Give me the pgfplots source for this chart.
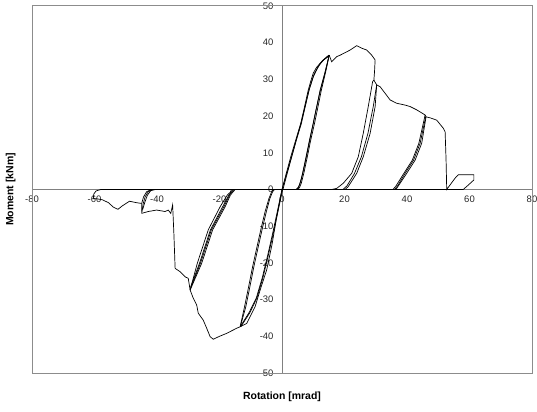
\documentclass[border=0pt]{standalone}
\usepackage{pgfplots}
\pgfplotsset{compat=1.18}
\usepackage{fontspec}
\setmainfont{Liberation Sans}
\begin{document}
\begin{tikzpicture}
\begin{axis}[
  at={(0,0)}, anchor=south west,
  scale only axis, width=500bp, height=367bp,
  xmin=-80, xmax=80, ymin=-50, ymax=50,
  axis lines=middle,
  axis line style={draw=black!50, line width=1bp, -},
  xtick={-80,-60,...,80}, ytick={-50,-40,...,50},
  hide obscured x ticks=false, hide obscured y ticks=false,
  major tick length=0pt,
  tick label style={font=\fontsize{9.5}{10}\selectfont, text=black!85},
  /pgf/number format/assume math mode=true,
  xticklabel style={anchor=north, yshift=-3bp},
  yticklabel style={anchor=east, xshift=-5bp},
  clip=false,
  cycle list={{black, solid, line width=0.7bp, mark=none}},
  every axis plot post/.append style={black, solid, line width=0.7bp, mark=none},
]
% frame
\draw[black!45, line width=1bp] (rel axis cs:0,0) rectangle (rel axis cs:1,1);

% cycle 1 positive: loading from origin
\addplot coordinates {(0,0)(1.4,4.5)(2.8,8.9)(4.4,13.5)(6,18)(7.2,22.5)(8.4,27.1)(9.2,29.5)(10,31.7)(11,33.2)(12.2,34.4)(13.5,35.4)(14.8,36.2)(15.1,36.6)};
\addplot coordinates {(0.3,0)(1.7,4.5)(3.1,8.9)(4.6,13.5)(6.2,18)(7.4,22.5)(8.6,27)(9.9,30.5)(11.3,33)(12.8,35)(14.4,36.2)(15.1,36.6)};
\addplot coordinates {(0,0)(1.5,4.3)(3,8.7)(4.5,13.3)(6.1,18.2)(7.5,23)(8.8,27.5)(10.3,31.5)(11.8,33.8)(13.3,35.3)(15.1,36.6)};
% cycle 1 positive: unloading
\addplot coordinates {(15.1,36.6)(13.8,32)(12.2,27.1)(11.1,22.5)(10,18)(8.8,13.5)(7.7,8.9)(6.6,4.5)(5.8,1.8)(5.2,0.5)(4.5,0)};
\addplot coordinates {(15.1,36.6)(14.1,32.5)(12.6,27.1)(11.5,22.5)(10.4,18)(9.2,13.5)(8.1,8.9)(7,4.5)(6.2,1.8)(5.6,0.5)(5,0)};
\addplot coordinates {(14.8,35.5)(13.5,31)(12,26)(10.7,21)(9.5,16)(8.3,11)(7.2,6.5)(6.2,2.8)(5.4,0.8)(4.6,0)};

% cycle 1 negative
\addplot coordinates {(0,0)(-1.5,-6)(-3,-12)(-4.6,-18)(-6.3,-24)(-8.2,-29.5)(-10.5,-33.5)(-13.4,-37.4)};
\addplot coordinates {(0.2,0)(-1.3,-6)(-2.8,-12)(-4.4,-18)(-6.1,-24)(-8,-29.5)(-10.3,-33.6)(-13.2,-37.4)};
\addplot coordinates {(-13.4,-37.4)(-12,-32)(-10.8,-27)(-9.4,-21)(-8.1,-16)(-6.8,-11)(-5.4,-6)(-4.2,-2.5)(-3.3,-0.6)(-2.8,0)};
\addplot coordinates {(-13.3,-37.2)(-11.6,-32)(-10.4,-27)(-9,-21)(-7.7,-16)(-6.4,-11)(-5,-6)(-3.9,-2.5)(-3,-0.6)(-2.4,0)};
\addplot coordinates {(-13.4,-37.4)(-11.3,-36.5)(-8.6,-31.9)(-7,-27.4)(-4.9,-21.9)(-3.2,-15)(-1.8,-8)(-0.7,-3)(0,0)};

% positive envelope and cycle 2
\addplot coordinates {(15.1,36.6)(15.9,34.8)(17.5,36.2)(18.6,36.6)(20,37.2)(21.8,38)(23.9,39.2)(25.5,38.5)(27.1,38)(28.7,36.6)(29.8,35.3)(29.6,32)(29.4,29.8)(30.3,28.5)};
\addplot coordinates {(15.9,0)(17.5,0.3)(19.6,1.7)(22.3,4.4)(24.4,8.9)(26,15.3)(27.6,22.6)(29,29.4)(29.4,29.8)};
\addplot coordinates {(30.3,28.5)(29.8,22.6)(28.2,15.3)(26,8.9)(23.9,4.4)(21.2,0.8)(20.2,0)};
\addplot coordinates {(30.3,28.5)(29.2,22.6)(27.5,15.3)(25.4,8.9)(23.2,4.4)(20.8,1)(19.5,0)};

% envelope and cycle 3
\addplot coordinates {(30.3,28.5)(31.4,28)(33,26.2)(34.6,24.4)(36.7,23.5)(39.4,23)(41,22.6)(43.1,21.7)(45.8,20.3)(46.1,19.8)};
\addplot coordinates {(46.1,19.8)(44.7,12.6)(42.6,8)(39.9,4.4)(36.7,0.3)(36.3,0)};
\addplot coordinates {(45.8,20.3)(43.8,12.6)(41.7,8)(39,4.4)(36.5,1)(35.5,0)};
\addplot coordinates {(46,19.9)(44.2,12.6)(42.1,8)(39.4,4.4)(37,1)(36,0)};
\addplot coordinates {(46.1,19.8)(47.5,19.5)(49.5,18.9)(51.6,16.7)(52.2,15.7)(52.5,8)(52.7,0.3)(52.7,0)(54,1.5)(55.4,3.1)(56.4,4)(61.4,4)(61.4,2.6)(59.6,1.2)(58,0)};

% negative envelope and cycle 2
\addplot coordinates {(-13.4,-37.4)(-14.5,-37.8)(-17.7,-39.2)(-20,-40)(-22,-40.8)(-23,-40.1)(-24.1,-37.8)(-25.2,-35.6)(-26.8,-33.7)(-27.3,-31.5)(-28.4,-29.6)(-29.4,-27.4)};
\addplot coordinates {(-29.4,-27.4)(-27.1,-20.1)(-23.6,-11)(-19.8,-4.7)(-17.5,-1.5)(-15.6,0)};
\addplot coordinates {(-29.4,-27.4)(-25.7,-20.1)(-22.2,-11)(-18.2,-4.7)(-16.5,-1.5)(-15,0)};
\addplot coordinates {(-29.2,-26.5)(-26.4,-20.1)(-22.9,-11)(-19,-4.7)(-17,-1.5)(-15.3,0)};
\addplot coordinates {(-29.3,-27)(-26.1,-20.1)(-22.6,-11)(-18.6,-4.7)(-16.8,-1.5)(-16.2,0)};

% envelope and cycle 3 negative
\addplot coordinates {(-29.4,-27.4)(-30,-24.2)(-31,-23.8)(-32.6,-22.4)(-34.2,-21.5)(-34.6,-12)(-35,-4.2)(-35.6,-6.5)(-36.4,-5.6)(-37.4,-6)(-40.1,-5.6)(-42.8,-6)(-44.9,-6.5)};
\addplot coordinates {(-44.9,-6.5)(-44.4,-3.8)(-43.8,-2)(-42.8,-0.6)(-41.2,0)};
\addplot coordinates {(-44.9,-6)(-44.9,-3.8)(-44.3,-2)(-43.3,-0.6)(-41.8,0)};
\addplot coordinates {(-44.6,-5.5)(-43.9,-3.5)(-43.1,-1.6)(-42,-0.3)(-40.5,0)};

% wave and zero-stiffness line
\addplot coordinates {(-44.9,-3.8)(-46.5,-3.6)(-48.8,-3.2)(-51,-4.4)(-52.5,-5.4)(-54,-4.8)(-55.5,-3.6)(-57.5,-2.8)(-59.5,-2.5)(-60.4,-2.5)(-60.2,-1.2)(-59.5,-0.4)(-58,0)(58,0)};
\addplot[line width=1.1bp] coordinates {(-58,0)(58,0)};

\node[rotate=90, anchor=south, font=\bfseries\fontsize{10.5}{12}\selectfont] at ([xshift=-13bp]rel axis cs:0,0.5) {Moment [kNm]};
\node[anchor=north, font=\bfseries\fontsize{10.5}{12}\selectfont] at ([yshift=-15bp]rel axis cs:0.5,0) {Rotation [mrad]};
\end{axis}
\pgfresetboundingbox
\path (-32bp,-39bp) rectangle (505bp,373bp);
\end{tikzpicture}
\end{document}
